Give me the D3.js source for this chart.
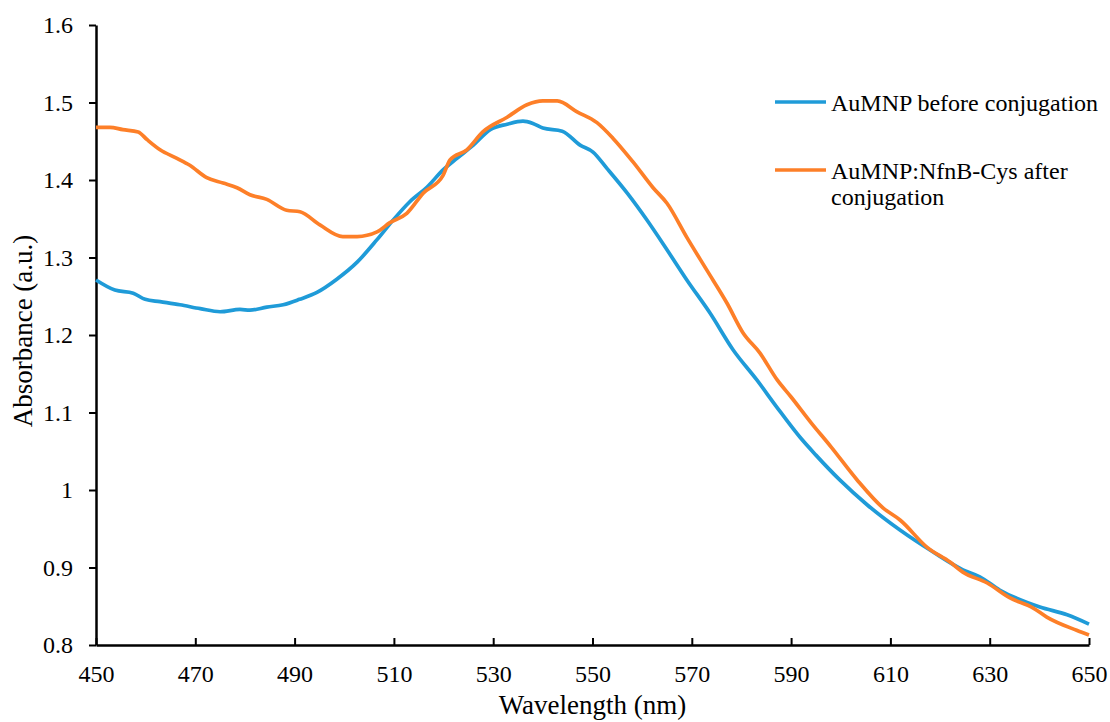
<!DOCTYPE html>
<html>
<head>
<meta charset="utf-8">
<script src="https://cdn.jsdelivr.net/npm/d3@7"></script>
<style>
  body { margin: 0; background: #fff; }
  text { font-family: "Liberation Serif", "Times New Roman", serif; }
</style>
</head>
<body>
<div id="chart"></div>
<script>
// readings
var beforeWl = [450, 453.8, 457.5, 459.9, 462.9, 466.9, 471, 475, 479, 481, 484.4, 487.7, 491, 494.5, 498.5, 502.6, 506.6, 509.8, 513.2, 516.7, 519.9, 522.7, 526, 529.4, 532.8, 536, 538, 540, 543.9, 547.5, 550.1, 552.9, 557, 561, 565, 569, 573.7, 578.3, 583.1, 587, 591.8, 595, 599.8, 605.3, 612, 618.6, 624.6, 628, 632, 640.1, 645.6, 650];
var beforeAbs = [1.271, 1.258, 1.254, 1.246, 1.243, 1.239, 1.234, 1.230, 1.233, 1.232, 1.236, 1.239, 1.246, 1.255, 1.272, 1.294, 1.323, 1.348, 1.372, 1.391, 1.413, 1.428, 1.445, 1.465, 1.472, 1.476, 1.473, 1.467, 1.463, 1.445, 1.436, 1.415, 1.383, 1.348, 1.310, 1.271, 1.228, 1.181, 1.142, 1.108, 1.068, 1.045, 1.013, 0.981, 0.948, 0.920, 0.897, 0.888, 0.871, 0.849, 0.839, 0.827];

var afterWl = [450, 452.8, 455.4, 458.5, 460.3, 462.9, 466.3, 468.9, 472.3, 475.6, 478.4, 481, 484.4, 488.4, 491.1, 495.1, 499.7, 502.6, 506.6, 509.2, 512.6, 515.9, 519.9, 521.3, 524.7, 527.9, 532.8, 536.8, 540, 542.9, 546.9, 550.9, 554.1, 558.2, 562.2, 565, 569, 573, 577.1, 580.3, 583.7, 587.2, 590, 594, 598, 603.3, 608.5, 612, 617.4, 622, 624.6, 629.5, 634, 638.7, 641.5, 647.5, 650];
var afterAbs = [1.468, 1.468, 1.465, 1.462, 1.452, 1.439, 1.428, 1.419, 1.403, 1.396, 1.390, 1.381, 1.375, 1.361, 1.359, 1.342, 1.327, 1.327, 1.333, 1.345, 1.357, 1.383, 1.406, 1.426, 1.439, 1.462, 1.481, 1.497, 1.502, 1.502, 1.488, 1.474, 1.454, 1.423, 1.390, 1.370, 1.326, 1.284, 1.241, 1.203, 1.177, 1.142, 1.120, 1.087, 1.056, 1.013, 0.977, 0.961, 0.926, 0.907, 0.894, 0.880, 0.861, 0.848, 0.836, 0.819, 0.813];

var xTicks = [450, 470, 490, 510, 530, 550, 570, 590, 610, 630, 650];
var yTicks = [0.8, 0.9, 1, 1.1, 1.2, 1.3, 1.4, 1.5, 1.6];

var seriesColors = ["#1f9bd8", "#fd7f28"];

var width = 1110, height = 722;
var margin = {left: 96, right: 21, top: 25, bottom: 77};

var svg = d3.select("#chart").append("svg")
    .attr("width", width)
    .attr("height", height);

var x = d3.scaleLinear().domain([450, 650]).range([margin.left, width - margin.right]);
var y = d3.scaleLinear().domain([0.8, 1.6]).range([645, margin.top]);

// axes
var xAxis = svg.append("g")
    .attr("transform", "translate(0," + y(0.8) + ")")
    .call(d3.axisBottom(x).tickValues(xTicks).tickSizeInner(-7).tickSizeOuter(0).tickPadding(20));
xAxis.select(".domain").attr("stroke-width", 2.5);
xAxis.selectAll(".tick line").attr("stroke-width", 2);
xAxis.selectAll("text").attr("font-size", 24).attr("fill", "#000");

var yAxis = svg.append("g")
    .attr("transform", "translate(" + x(450) + ",0)")
    .call(d3.axisLeft(y).tickValues(yTicks).tickSizeInner(7).tickSizeOuter(0).tickPadding(16).tickFormat(d3.format("")));
yAxis.select(".domain").attr("stroke-width", 2.5);
yAxis.selectAll(".tick line").attr("stroke-width", 2);
yAxis.selectAll("text").attr("font-size", 24).attr("fill", "#000");

// axis titles
svg.append("text")
    .attr("x", (x(450) + x(650)) / 2)
    .attr("y", 714)
    .attr("text-anchor", "middle")
    .attr("font-size", 27)
    .text("Wavelength (nm)");

svg.append("text")
    .attr("transform", "translate(32,331) rotate(-90)")
    .attr("text-anchor", "middle")
    .attr("font-size", 27)
    .text("Absorbance (a.u.)");

// lines
var line = d3.line()
    .x(function (d) { return x(d[0]); })
    .y(function (d) { return y(d[1]); })
    .curve(d3.curveMonotoneX);

var series = [
    d3.zip(beforeWl, beforeAbs),
    d3.zip(afterWl, afterAbs)
];

svg.append("g")
    .selectAll("path")
    .data(series)
    .enter()
    .append("path")
    .attr("d", line)
    .attr("fill", "none")
    .attr("stroke", function (d, i) { return seriesColors[i]; })
    .attr("stroke-width", 3.7)
    .attr("stroke-linejoin", "round");

// legend
var legend = svg.append("g").attr("transform", "translate(775,102)");
var legendRows = [
    {lines: ["AuMNP before conjugation"], dy: 0},
    {lines: ["AuMNP:NfnB-Cys after", "conjugation"], dy: 68}
];
legendRows.forEach(function (r, i) {
    var g = legend.append("g").attr("transform", "translate(0," + r.dy + ")");
    g.append("line")
        .attr("x1", 0).attr("x2", 51)
        .attr("y1", 0).attr("y2", 0)
        .attr("stroke", seriesColors[i])
        .attr("stroke-width", 3.7);
    var t = g.append("text")
        .attr("x", 56)
        .attr("y", 9)
        .attr("font-size", 24);
    r.lines.forEach(function (s, j) {
        t.append("tspan").attr("x", 56).attr("dy", j === 0 ? 0 : 26).text(s);
    });
});
</script>
</body>
</html>
